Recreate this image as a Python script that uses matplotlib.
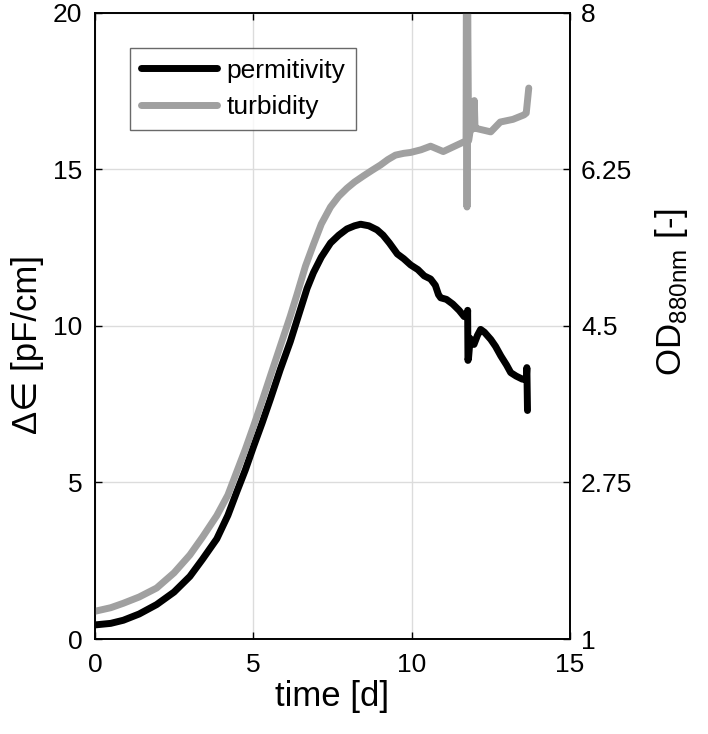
import matplotlib
matplotlib.use("Agg")
import matplotlib.pyplot as plt
from matplotlib.ticker import FixedLocator

plt.rcParams['font.family'] = ['Liberation Sans', 'DejaVu Sans']
plt.rcParams['mathtext.fontset'] = 'custom'
plt.rcParams['mathtext.rm'] = 'Liberation Sans'

# permittivity (left axis, pF/cm)
perm_t = [0.0, 0.5, 0.9, 1.4, 1.95, 2.5, 3.0, 3.4, 3.85, 4.2, 4.48, 4.75, 5.01, 5.28,
          5.54, 5.85, 6.17, 6.45, 6.7, 6.9, 7.15, 7.44, 7.7, 7.96, 8.2, 8.39, 8.65,
          8.91, 9.1, 9.3, 9.55, 9.75, 9.97, 10.2, 10.4, 10.6, 10.75, 10.85, 10.92,
          11.1, 11.3, 11.5, 11.66, 11.76, 11.77, 11.78, 11.8, 11.85, 11.97, 12.08,
          12.18, 12.3, 12.5, 12.65, 12.82, 13.0, 13.13, 13.3, 13.5, 13.62, 13.64, 13.66]
perm_v = [0.45, 0.5, 0.6, 0.8, 1.1, 1.5, 2.0, 2.55, 3.2, 3.95, 4.7, 5.4, 6.15, 6.9,
          7.66, 8.6, 9.5, 10.4, 11.2, 11.7, 12.2, 12.65, 12.9, 13.1, 13.2, 13.25, 13.2,
          13.07, 12.9, 12.65, 12.3, 12.15, 11.95, 11.8, 11.6, 11.5, 11.3, 11.0, 10.9,
          10.85, 10.7, 10.5, 10.3, 10.3, 10.5, 8.9, 9.0, 9.6, 9.41, 9.7,
          9.89, 9.8, 9.57, 9.35, 9.04, 8.75, 8.51, 8.4, 8.3, 8.3, 8.67, 7.3]

# turbidity (right axis, OD880nm)
turb_t = [0.0, 0.5, 0.9, 1.4, 1.95, 2.5, 3.0, 3.4, 3.85, 4.2, 4.48, 4.75, 5.01, 5.28,
          5.54, 5.85, 6.17, 6.38, 6.65, 6.9, 7.15, 7.44, 7.7, 7.96, 8.2, 8.49, 8.75,
          9.02, 9.25, 9.49, 9.75, 9.97, 10.3, 10.6, 10.8, 11.0, 11.3, 11.6, 11.72,
          11.73, 11.75, 11.77, 11.8, 11.85, 11.95, 11.98, 12.0, 12.02, 12.5, 12.8,
          13.2, 13.55, 13.62, 13.7]
turb_v = [1.31, 1.35, 1.40, 1.47, 1.57, 1.74, 1.94, 2.14, 2.38, 2.61, 2.87, 3.12,
          3.38, 3.66, 3.94, 4.27, 4.61, 4.85, 5.17, 5.41, 5.64, 5.83, 5.95, 6.04, 6.11,
          6.18, 6.24, 6.30, 6.36, 6.41, 6.43, 6.44, 6.47, 6.51, 6.48, 6.45, 6.50, 6.55,
          6.57, 8.35, 5.83, 8.18, 6.57, 6.68, 6.71, 7.02, 6.75, 6.71, 6.67, 6.78,
          6.81, 6.86, 6.88, 7.16]

left_ticks = [0, 5, 10, 15, 20]
right_ticks = [1, 2.75, 4.5, 6.25, 8]
right_labels = ["1", "2.75", "4.5", "6.25", "8"]
x_ticks = [0, 5, 10, 15]

fig = plt.figure(figsize=(7.08, 7.34), dpi=100)
ax = fig.add_axes([0.134, 0.1294, 0.671, 0.853])
ax2 = ax.twinx()

l1, = ax.plot(perm_t, perm_v, color='black', lw=5, solid_capstyle='round',
              solid_joinstyle='round', label='permitivity', zorder=3)
l2, = ax2.plot(turb_t, turb_v, color='#a0a0a0', lw=5, solid_capstyle='round',
               solid_joinstyle='round', label='turbidity', zorder=2)

ax.set_xlim(0, 15)
ax.set_ylim(0, 20)
ax2.set_ylim(1, 8)
ax.set_xticks(x_ticks)
ax.set_yticks(left_ticks)
ax2.yaxis.set_major_locator(FixedLocator(right_ticks))
ax2.set_yticklabels(right_labels)

ax.grid(True, color='#dcdcdc', lw=1)
ax.set_axisbelow(True)

for a in (ax, ax2):
    a.tick_params(direction='in', length=5, width=1, labelsize=19, colors='black')
    for s in a.spines.values():
        s.set_linewidth(1.2)
ax.tick_params(axis='x', top=True, pad=10)
ax.tick_params(axis='y', pad=9)
ax2.tick_params(axis='y', pad=8)

ax.set_xlabel('time [d]', fontsize=25, labelpad=2)
ax.set_ylabel('Δ∈ [pF/cm]', fontsize=25)
ax2.set_ylabel(r'OD$_{\mathregular{880nm}}$ [-]', fontsize=25)
ax.yaxis.set_label_coords(-0.108, 0.47)
ax2.yaxis.set_label_coords(1.175, 0.555)

leg = ax2.legend(handles=[l1, l2], loc='upper left', bbox_to_anchor=(0.074, 0.944),
                 fontsize=19, frameon=True, fancybox=False, edgecolor='#444444',
                 handlelength=2.9, handletextpad=0.35, borderpad=0.4, labelspacing=0.48,
                 borderaxespad=0)
leg.get_frame().set_linewidth(1.0)

fig.savefig('out.png', dpi=100)
